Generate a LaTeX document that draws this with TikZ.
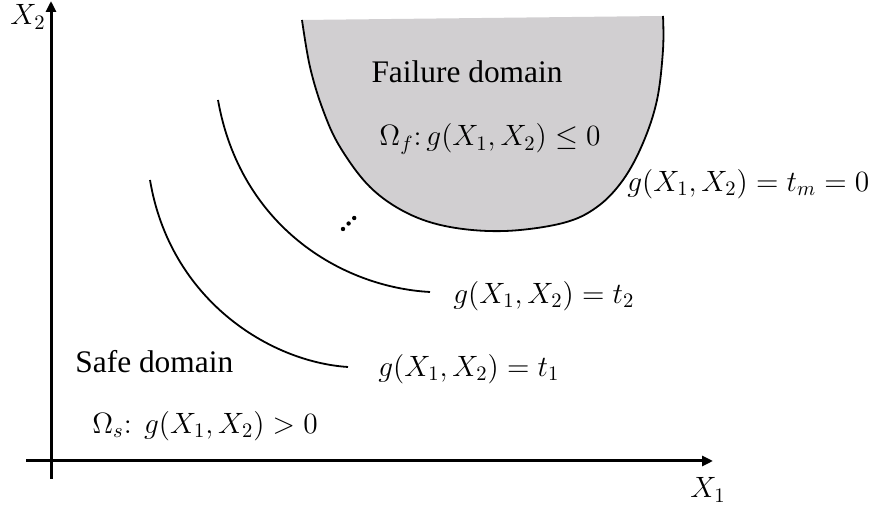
\RequirePackage{fix-cm}
\documentclass[tikz,border=0pt]{standalone}
\usepackage{fontspec}
\setmainfont{Liberation Serif}
\usetikzlibrary{arrows.meta,positioning}
\definecolor{failgray}{RGB}{209,207,209}

\begin{document}
\begin{tikzpicture}[
  x=0.5pt, y=-0.5pt,
  font=\rmfamily\fontsize{15.7}{18}\selectfont,
  axis/.style={line width=1.5pt, -{Triangle[length=5.5pt, width=5pt]}},
  level/.style={line width=0.9pt},
  eq/.style={font=\rmfamily\fontsize{14.7}{17}\selectfont},
  lbl/.style={eq, inner sep=0pt, anchor=west},
]
\useasboundingbox (0,0) rectangle (878,506);

% axes
\coordinate (xstart) at (26,461);
\coordinate (xend)   at (713,461);
\coordinate (ystart) at (51,479);
\coordinate (yend)   at (51,1);
\draw[axis] (xstart) -- (xend);
\draw[axis] (ystart) -- (yend);
\node[eq] (X1) at (708,490) {$X_1$};
\node[eq] (X2) at (28,17)   {$X_2$};

% failure domain: filled region, only the limit-state curve is stroked
\fill[failgray] plot[smooth, tension=0.6] coordinates {(302,20) (310,67) (323,110) (340,147)
  (370,187) (407,213) (450,227) (505,231) (563,223) (597,207) (623,180) (643,143)
  (657,100) (663,50) (663,16)} -- cycle;
\draw[level] plot[smooth, tension=0.6] coordinates {(302,20) (310,67) (323,110) (340,147)
  (370,187) (407,213) (450,227) (505,231) (563,223) (597,207) (623,180) (643,143)
  (657,100) (663,50) (663,16)};

% level curves g = t_1, t_2
\draw[level] (150,180) .. controls (170,300) and (270,362) .. (348,367);
\draw[level] (218,100) .. controls (240,225) and (340,287) .. (430,292);
\foreach \i in {0,1,2}
  \fill (343+5.6*\i, 229-5.5*\i) circle (1.1pt);

% labels
\node[anchor=base] (fail) at (467,83) {Failure domain};
\node[eq] (failEq) at (490,139) {$\Omega_f\colon g(X_1,X_2)\leq 0$};
\node[lbl] (tm) at (627,184) {$g(X_1,X_2)=t_m=0$};
\node[lbl] (t2) at (453,296) {$g(X_1,X_2)=t_2$};
\node[lbl] (t1) at (378,369) {$g(X_1,X_2)=t_1$};
\node[anchor=base west, inner sep=0pt] (safe) at (75,373) {Safe domain};
\node[lbl] (safeEq) at (92,426) {$\Omega_s\colon\ g(X_1,X_2)>0$};

\end{tikzpicture}
\end{document}
